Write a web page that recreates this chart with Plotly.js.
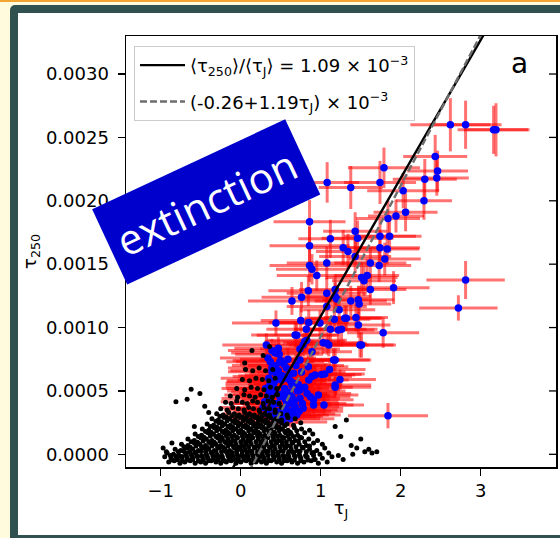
<!DOCTYPE html>
<html><head><meta charset="utf-8">
<script src="https://cdn.plot.ly/plotly-3.0.1.min.js"></script>
<style>
html,body{margin:0;padding:0;width:560px;height:538px;overflow:hidden;background:#fffbdc;}
#topline{position:absolute;left:0;top:0;width:560px;height:2px;background:#f3a531;}
#frame{position:absolute;left:10px;top:5px;width:620px;height:620px;background:#2f5150;border-radius:5px;}
#inner{position:absolute;left:18px;top:13px;width:600px;height:522px;background:#ffffff;}
#chart{position:absolute;left:0;top:0;width:560px;height:538px;}
</style></head><body>
<div id="topline"></div><div id="frame"></div><div id="inner"></div><div id="chart"></div>
<script>
// y values are stored in units of 1e-3
const Y_UNIT = 1e-3;

// fitted relations (legend)
const fitRatio = 1.09;      // <tau250>/<tauJ> x 1e-3
const fitIntercept = -0.26; // x 1e-3
const fitSlope = 1.19;      // x 1e-3
const fitXRange = [-0.6, 3.6];

// blue points with error bars
const blueX = [
2.62,2.81,3.16,3.19,2.43,2.46,2.45,2.30,2.29,2.03,
2.06,1.94,1.84,1.79,1.74,1.375,1.08,0.86,1.12,0.86,
1.43,1.46,1.74,1.86,1.74,1.83,1.28,1.34,1.43,1.80,
1.62,1.73,1.075,0.86,0.89,0.95,1.51,1.54,1.58,1.62,
1.91,2.81,0.845,1.075,1.18,1.18,1.20,0.76,0.64,1.375,
1.47,1.48,2.72,1.075,1.23,1.17,1.32,1.44,1.47,0.75,
0.85,0.99,1.12,1.22,1.26,1.78,0.68,0.80,1.03,1.10,
1.51,1.18,1.11,0.74,0.89,0.74,0.845,1.01,1.05,1.24,
1.18,0.89,0.575,0.66,0.53,0.74,0.97,0.91,1.04,0.575,
0.78,0.66,1.84,0.44,0.70,0.82,0.825,0.32,0.39,0.47,
0.43,0.37,0.49,0.57,0.78,0.39,0.45,0.51,0.37,0.60,
0.64,0.85,0.43,0.345,0.49,0.64,0.74,0.30,0.41,0.575,
0.68,0.345,0.47,0.55,0.39,0.91,0.70,0.87,0.93,1.16,
1.075,1.30,1.49,1.18,0.28,0.53,0.62,0.44,0.36,0.55,
0.33,0.36,0.40,0.42,0.46,0.48,0.50,0.52,0.56,0.58,
0.61,0.63,0.67,0.71,0.73,0.77,0.80,0.83,0.35,0.38,
0.41,0.44,0.47,0.52,0.54,0.59,0.62,0.66,0.69,0.72,
0.31,0.34,0.39,0.43,0.48,0.57,0.63,0.76,0.45,0.50];
const blueY = [
2.60,2.60,2.56,2.56,2.35,2.235,2.18,2.17,2.00,2.08,
1.91,1.88,1.86,2.26,2.145,2.105,2.145,1.835,1.70,1.645,
1.76,1.705,1.72,1.72,1.63,1.62,1.63,1.60,1.56,1.54,
1.51,1.49,1.51,1.49,1.46,1.41,1.395,1.37,1.41,1.30,
1.315,1.375,1.29,1.27,1.30,1.245,1.225,1.24,1.21,1.21,
1.22,1.185,1.155,1.166,1.14,1.066,1.074,1.08,1.02,1.055,
1.04,1.035,0.987,0.98,0.987,0.96,0.942,0.89,0.88,0.863,
0.863,0.745,0.67,0.83,0.81,0.745,0.69,0.63,0.634,0.59,
0.547,0.613,0.60,0.56,0.48,0.508,0.468,0.43,0.39,0.40,
0.363,0.35,0.305,1.035,0.94,0.987,0.90,0.863,0.82,0.837,
0.80,0.73,0.73,0.68,0.863,0.652,0.613,0.587,0.573,0.626,
0.547,0.587,0.494,0.468,0.455,0.455,0.442,0.415,0.40,0.39,
0.376,0.35,0.336,0.31,0.297,0.39,0.31,0.455,0.626,0.745,
0.877,1.074,0.863,0.53,0.37,0.255,0.28,0.28,0.54,0.52,
0.32,0.44,0.36,0.52,0.40,0.30,0.47,0.36,0.43,0.34,
0.49,0.32,0.42,0.50,0.34,0.40,0.53,0.48,0.60,0.50,
0.56,0.70,0.66,0.62,0.71,0.75,0.58,0.64,0.70,0.55,
0.52,0.76,0.68,0.58,0.79,0.46,0.40,0.65,0.30,0.74];
const blueXerr = [
0.50,0.45,0.45,0.40,0.40,0.38,0.40,0.40,0.35,0.45,
0.40,0.35,0.40,0.45,0.45,0.40,0.40,0.45,0.40,0.50,
0.40,0.45,0.45,0.40,0.50,0.40,0.45,0.40,0.45,0.45,
0.45,0.40,0.50,0.50,0.45,0.50,0.45,0.40,0.40,0.45,
0.45,0.49,0.50,0.50,0.45,0.45,0.40,0.50,0.55,0.45,
0.45,0.40,0.49,0.50,0.45,0.45,0.45,0.40,0.40,0.50,
0.50,0.50,0.45,0.45,0.45,0.45,0.55,0.50,0.50,0.50,
0.40,0.45,0.45,0.50,0.50,0.50,0.50,0.50,0.50,0.45,
0.45,0.50,0.55,0.55,0.55,0.50,0.50,0.50,0.50,0.55,
0.50,0.55,0.50,0.55,0.50,0.50,0.50,0.55,0.55,0.55,
0.55,0.55,0.55,0.55,0.50,0.55,0.55,0.55,0.55,0.55,
0.55,0.50,0.55,0.55,0.55,0.55,0.50,0.55,0.55,0.55,
0.55,0.55,0.55,0.55,0.55,0.50,0.55,0.50,0.50,0.45,
0.50,0.45,0.45,0.45,0.55,0.55,0.55,0.55,0.55,0.55,
0.55,0.60,0.55,0.60,0.55,0.55,0.60,0.55,0.55,0.55,
0.60,0.55,0.55,0.60,0.55,0.55,0.60,0.55,0.60,0.55,
0.60,0.55,0.60,0.55,0.55,0.60,0.55,0.55,0.60,0.55,
0.55,0.60,0.55,0.60,0.55,0.55,0.60,0.55,0.55,0.60];
const blueYerr = [
0.21,0.19,0.19,0.21,0.17,0.16,0.14,0.16,0.15,0.14,
0.15,0.13,0.14,0.16,0.17,0.17,0.16,0.17,0.15,0.15,
0.15,0.14,0.13,0.13,0.14,0.12,0.14,0.14,0.13,0.13,
0.12,0.13,0.13,0.13,0.12,0.12,0.12,0.12,0.13,0.12,
0.13,0.15,0.12,0.12,0.12,0.11,0.11,0.12,0.11,0.12,
0.11,0.11,0.10,0.11,0.11,0.10,0.10,0.11,0.10,0.10,
0.10,0.10,0.10,0.10,0.09,0.12,0.10,0.09,0.09,0.09,
0.10,0.09,0.09,0.09,0.09,0.09,0.09,0.08,0.08,0.08,
0.08,0.08,0.08,0.08,0.08,0.08,0.08,0.08,0.08,0.08,
0.08,0.07,0.10,0.10,0.10,0.10,0.09,0.09,0.09,0.09,
0.09,0.09,0.09,0.08,0.09,0.08,0.08,0.08,0.08,0.08,
0.08,0.08,0.08,0.08,0.08,0.08,0.08,0.07,0.07,0.07,
0.07,0.07,0.07,0.07,0.07,0.07,0.07,0.08,0.08,0.09,
0.09,0.10,0.10,0.08,0.07,0.07,0.07,0.07,0.08,0.08,
0.07,0.08,0.07,0.08,0.07,0.07,0.08,0.07,0.08,0.07,
0.08,0.07,0.08,0.08,0.07,0.08,0.08,0.08,0.08,0.08,
0.08,0.09,0.09,0.08,0.09,0.09,0.08,0.09,0.09,0.08,
0.08,0.09,0.09,0.08,0.09,0.08,0.08,0.09,0.07,0.09];

// black points (no error bars)
const blackX = [
-0.90,-0.83,-0.76,-0.70,-0.63,-0.57,-0.50,-0.44,-0.37,-0.31,-0.25,-0.18,-0.12,-0.06,0.00,0.07,0.13,0.19,0.26,0.32,0.38,0.45,0.51,0.58,0.64,0.71,0.79,0.88,0.97,1.08,
-0.95,-0.87,-0.80,-0.73,-0.67,-0.60,-0.54,-0.47,-0.41,-0.34,-0.28,-0.22,-0.15,-0.09,-0.03,0.04,0.10,0.16,0.23,0.29,0.35,0.42,0.48,0.55,0.61,0.68,0.75,0.83,0.92,1.02,1.14,1.28,
-0.92,-0.84,-0.77,-0.69,-0.62,-0.56,-0.49,-0.43,-0.36,-0.30,-0.24,-0.17,-0.11,-0.05,0.02,0.08,0.14,0.21,0.27,0.33,0.40,0.46,0.53,0.59,0.66,0.73,0.81,0.89,0.99,1.10,1.22,1.40,
-0.82,-0.75,-0.67,-0.60,-0.53,-0.46,-0.40,-0.33,-0.27,-0.20,-0.14,-0.08,-0.01,0.05,0.11,0.18,0.24,0.30,0.37,0.43,0.50,0.56,0.63,0.70,0.78,0.86,0.95,1.05,
-0.74,-0.66,-0.58,-0.51,-0.44,-0.38,-0.31,-0.25,-0.18,-0.12,-0.06,0.01,0.07,0.13,0.20,0.26,0.32,0.39,0.45,0.52,0.58,0.65,0.73,0.82,0.91,1.02,
-0.66,-0.58,-0.50,-0.43,-0.36,-0.29,-0.23,-0.16,-0.10,-0.04,0.03,0.09,0.15,0.22,0.28,0.34,0.41,0.47,0.54,0.61,0.68,0.76,0.85,0.96,
-0.57,-0.49,-0.41,-0.34,-0.27,-0.21,-0.14,-0.08,-0.02,0.05,0.11,0.17,0.24,0.30,0.36,0.43,0.49,0.56,0.63,0.71,0.80,0.90,
-0.48,-0.40,-0.33,-0.26,-0.19,-0.13,-0.06,0.00,0.07,0.13,0.19,0.26,0.32,0.38,0.45,0.52,0.59,0.67,0.76,0.86,
-0.42,-0.34,-0.27,-0.20,-0.13,-0.07,0.00,0.06,0.12,0.19,0.25,0.31,0.38,0.44,0.51,0.58,0.66,0.75,
-0.36,-0.28,-0.21,-0.14,-0.07,-0.01,0.06,0.12,0.18,0.25,0.31,0.37,0.44,0.51,0.59,0.68,
-0.30,-0.22,-0.15,-0.08,-0.02,0.05,0.11,0.17,0.24,0.30,0.36,0.43,0.50,0.58,
-0.25,-0.17,-0.10,-0.03,0.04,0.10,0.16,0.23,0.29,0.36,0.43,0.51,
-0.19,-0.12,-0.05,0.02,0.08,0.15,0.21,0.28,0.34,0.41,0.48,
-0.13,-0.04,0.04,0.11,0.18,0.25,0.32,0.39,0.46,
-0.05,0.05,0.13,0.21,0.29,0.37,0.45,
0.02,0.11,0.19,0.27,0.35,0.43,
0.06,0.15,0.23,0.31,0.40,
0.05,0.14,0.28,0.36,
-0.97,-0.93,-0.86,-0.81,-0.67,-0.62,-0.51,-0.45,-0.40,-0.58,1.18,1.25,1.32,1.38,1.45,1.50,1.55,1.60,1.64,1.70,
-0.86,-0.79,-0.73,-0.66,-0.60,-0.53,-0.47,-0.40,-0.34,-0.28,-0.21,-0.15,-0.09,-0.03,0.04,0.10,0.16,0.22,0.29,0.35,0.41,0.48,0.54,0.61,0.67,0.75,0.84,0.93,
-0.88,-0.81,-0.74,-0.68,-0.61,-0.55,-0.48,-0.42,-0.35,-0.29,-0.23,-0.16,-0.10,-0.04,0.03,0.09,0.15,0.22,0.28,0.34,0.41,0.47,0.54,0.60,0.67,0.74,0.82,0.91,
-0.78,-0.71,-0.64,-0.57,-0.50,-0.44,-0.37,-0.31,-0.24,-0.18,-0.11,-0.05,0.02,0.08,0.14,0.21,0.27,0.34,0.40,0.47,0.53,0.60,0.66,0.74,0.82,0.91,
-0.71,-0.63,-0.56,-0.49,-0.42,-0.36,-0.29,-0.22,-0.16,-0.09,-0.03,0.04,0.10,0.17,0.23,0.29,0.36,0.42,0.49,0.55,0.62,0.69,0.77,0.86,
-0.62,-0.54,-0.47,-0.40,-0.33,-0.26,-0.20,-0.13,-0.07,0.00,0.06,0.12,0.19,0.25,0.31,0.38,0.44,0.51,0.57,0.64,0.72,0.80,
-0.53,-0.46,-0.38,-0.31,-0.24,-0.18,-0.11,-0.05,0.02,0.08,0.14,0.21,0.27,0.33,0.40,0.46,0.52,0.59,0.66,0.74,
-0.44,-0.37,-0.30,-0.23,-0.16,-0.10,-0.03,0.03,0.10,0.16,0.22,0.29,0.35,0.42,0.48,0.55,0.62,0.70,
-0.38,-0.30,-0.23,-0.16,-0.10,-0.03,0.03,0.09,0.16,0.22,0.28,0.35,0.41,0.48,0.55,
-0.31,-0.24,-0.17,-0.10,-0.04,0.03,0.09,0.15,0.22,0.28,0.34,0.41,0.47,
-0.26,-0.18,-0.11,-0.05,0.02,0.08,0.14,0.21,0.27,0.34];
const blackY = [
-0.06,-0.05,-0.07,-0.06,-0.05,-0.07,-0.06,-0.07,-0.05,-0.06,-0.07,-0.06,-0.05,-0.07,-0.06,-0.05,-0.07,-0.06,-0.06,-0.07,-0.05,-0.06,-0.07,-0.05,-0.06,-0.07,-0.06,-0.05,-0.07,-0.06,
-0.02,-0.03,-0.04,-0.02,-0.03,-0.03,-0.02,-0.04,-0.03,-0.02,-0.03,-0.04,-0.02,-0.03,-0.03,-0.02,-0.04,-0.03,-0.02,-0.03,-0.04,-0.02,-0.03,-0.03,-0.04,-0.02,-0.03,-0.02,-0.04,-0.03,-0.02,-0.04,
0.01,0.00,-0.01,0.01,0.00,0.01,-0.01,0.00,0.01,0.00,-0.01,0.01,0.00,0.01,-0.01,0.00,0.01,0.00,-0.01,0.01,0.00,0.01,-0.01,0.00,0.01,0.00,-0.01,0.01,0.00,0.01,-0.01,0.00,
0.04,0.03,0.05,0.04,0.03,0.05,0.04,0.03,0.05,0.04,0.03,0.05,0.04,0.04,0.03,0.05,0.04,0.03,0.05,0.04,0.03,0.05,0.04,0.03,0.05,0.04,0.03,0.05,
0.08,0.07,0.09,0.08,0.07,0.09,0.08,0.07,0.09,0.08,0.08,0.07,0.09,0.08,0.07,0.09,0.08,0.07,0.09,0.08,0.07,0.09,0.08,0.07,0.09,0.08,
0.12,0.11,0.13,0.12,0.11,0.13,0.12,0.12,0.11,0.13,0.12,0.11,0.13,0.12,0.11,0.13,0.12,0.11,0.13,0.12,0.11,0.13,0.12,0.11,
0.16,0.15,0.17,0.16,0.15,0.17,0.16,0.15,0.17,0.16,0.15,0.17,0.16,0.15,0.17,0.16,0.15,0.17,0.16,0.15,0.17,0.16,
0.20,0.19,0.21,0.20,0.19,0.21,0.20,0.19,0.21,0.20,0.19,0.21,0.20,0.19,0.21,0.20,0.19,0.21,0.20,0.19,
0.24,0.23,0.25,0.24,0.23,0.25,0.24,0.23,0.25,0.24,0.23,0.25,0.24,0.23,0.25,0.24,0.23,0.25,
0.28,0.27,0.29,0.28,0.27,0.29,0.28,0.27,0.29,0.28,0.27,0.29,0.28,0.27,0.29,0.28,
0.32,0.31,0.33,0.32,0.31,0.33,0.32,0.31,0.33,0.32,0.31,0.33,0.32,0.31,
0.36,0.35,0.37,0.36,0.35,0.37,0.36,0.35,0.37,0.36,0.35,0.37,
0.41,0.40,0.42,0.41,0.40,0.42,0.41,0.40,0.42,0.41,0.40,
0.46,0.45,0.47,0.46,0.45,0.47,0.46,0.45,0.47,
0.52,0.51,0.53,0.52,0.51,0.53,0.52,
0.59,0.58,0.60,0.59,0.58,0.60,
0.67,0.66,0.68,0.66,0.67,
0.72,0.82,0.78,0.85,
0.05,0.02,0.09,0.415,0.434,0.513,0.48,0.38,0.33,0.22,0.22,0.14,0.27,0.07,0.05,0.12,0.02,0.04,0.01,0.02,
-0.045,-0.04,-0.05,-0.045,-0.04,-0.05,-0.045,-0.05,-0.04,-0.045,-0.05,-0.045,-0.04,-0.05,-0.045,-0.04,-0.05,-0.045,-0.045,-0.05,-0.04,-0.045,-0.05,-0.04,-0.045,-0.05,-0.045,-0.04,
-0.01,-0.015,-0.02,-0.01,-0.015,-0.01,-0.02,-0.015,-0.01,-0.015,-0.02,-0.01,-0.015,-0.01,-0.02,-0.015,-0.01,-0.015,-0.02,-0.01,-0.015,-0.01,-0.02,-0.015,-0.01,-0.015,-0.02,-0.01,
0.02,0.025,0.02,0.015,0.025,0.02,0.015,0.025,0.02,0.02,0.015,0.025,0.02,0.015,0.025,0.02,0.015,0.025,0.02,0.015,0.025,0.02,0.015,0.025,0.02,0.015,
0.06,0.055,0.065,0.06,0.055,0.065,0.06,0.055,0.065,0.06,0.055,0.065,0.06,0.055,0.065,0.06,0.055,0.065,0.06,0.055,0.065,0.06,0.055,0.065,
0.10,0.095,0.105,0.10,0.095,0.105,0.10,0.095,0.105,0.10,0.095,0.105,0.10,0.095,0.105,0.10,0.095,0.105,0.10,0.095,0.105,0.10,
0.14,0.135,0.145,0.14,0.135,0.145,0.14,0.135,0.145,0.14,0.135,0.145,0.14,0.135,0.145,0.14,0.135,0.145,0.14,0.135,
0.18,0.175,0.185,0.18,0.175,0.185,0.18,0.175,0.185,0.18,0.175,0.185,0.18,0.175,0.185,0.18,0.175,0.185,
0.22,0.215,0.225,0.22,0.215,0.225,0.22,0.215,0.225,0.22,0.215,0.225,0.22,0.215,0.225,
0.26,0.255,0.265,0.26,0.255,0.265,0.26,0.255,0.265,0.26,0.255,0.265,0.26,
0.30,0.295,0.305,0.30,0.295,0.305,0.30,0.295,0.305,0.30];

const xTickVals = [-1,0,1,2,3];
const yTickVals = [0,0.0005,0.0010,0.0015,0.0020,0.0025,0.0030];
const xRange = [-1.434, 3.94];
const yRange = [-0.0001, 0.0033];

const toY = a => a.map(v => v * Y_UNIT);
const FONT = '"DejaVu Sans", sans-serif';

const traces = [
  {
    x: blueX, y: toY(blueY), type: 'scatter', mode: 'markers', showlegend: false,
    marker: {color: '#0000ff', size: 7.5},
    error_x: {type: 'data', array: blueXerr, color: 'rgba(255,0,0,0.55)', thickness: 3, width: 0},
    error_y: {type: 'data', array: toY(blueYerr), color: 'rgba(255,0,0,0.55)', thickness: 3, width: 0},
    hoverinfo: 'skip'
  },
  {
    x: blackX, y: toY(blackY), type: 'scatter', mode: 'markers', showlegend: false,
    marker: {color: '#000000', size: 5}, hoverinfo: 'skip'
  },
  {
    x: fitXRange, y: toY(fitXRange.map(v => fitRatio * v)), type: 'scatter', mode: 'lines',
    name: '⟨τ<sub>250</sub>⟩/⟨τ<sub>J</sub>⟩ = ' + fitRatio.toFixed(2) + ' × 10<sup>−3</sup>',
    line: {color: '#000000', width: 2.4}, legendgroup: 'a'
  },
  {
    x: fitXRange, y: toY(fitXRange.map(v => fitIntercept + fitSlope * v)), type: 'scatter', mode: 'lines',
    name: '(' + fitIntercept.toFixed(2) + '+' + fitSlope.toFixed(2) + 'τ<sub>J</sub>) × 10<sup>−3</sup>',
    line: {color: '#6e6e6e', width: 2.4, dash: '7px,3px'}, legendgroup: 'b'
  }
];

// inward tick marks on the right-hand frame, placed on the y scale
const rightTicks = yTickVals.map(v => ({
  type: 'line', xref: 'paper', yref: 'y', x0: 1 - 7 / 430, x1: 1, y0: v, y1: v,
  line: {color: '#000000', width: 1.3}
}));

const layout = {
  width: 560, height: 538, autosize: false,
  margin: {l: 126, r: 4, t: 36, b: 71, pad: 0},
  paper_bgcolor: 'rgba(0,0,0,0)', plot_bgcolor: '#ffffff',
  font: {family: FONT, color: '#000000', size: 18},
  xaxis: {
    range: xRange, tickvals: xTickVals, ticks: 'outside', ticklen: 7, tickwidth: 1.3, tickcolor: '#000',
    showgrid: false, zeroline: false, showline: true, linecolor: '#000', linewidth: 1.5, mirror: true,
    tickfont: {family: FONT, size: 18}, ticklabelstandoff: 0,
    title: {text: 'τ<sub>J</sub>', font: {family: FONT, size: 18}, standoff: 1}
  },
  yaxis: {
    range: yRange, tickvals: yTickVals, tickformat: '.4f', ticks: 'outside', ticklen: 7, tickwidth: 1.3, tickcolor: '#000',
    showgrid: false, zeroline: false, showline: true, linecolor: '#000', linewidth: 1.5, mirror: true,
    tickfont: {family: FONT, size: 18}, ticklabelstandoff: 5,
    title: {text: 'τ<sub>250</sub>', font: {family: FONT, size: 18}, standoff: 4}
  },
  shapes: rightTicks,
  showlegend: true,
  legend: {
    x: 0.0186, y: 0.977, xanchor: 'left', yanchor: 'top',
    bgcolor: 'rgba(255,255,255,0.85)', bordercolor: '#cccccc', borderwidth: 1,
    font: {family: FONT, size: 18}, traceorder: 'grouped', tracegroupgap: 10, itemwidth: 45
  },
  annotations: [
    {xref: 'paper', yref: 'paper', x: 0.916, y: 0.937, xanchor: 'center', yanchor: 'middle',
     text: 'a', showarrow: false, font: {family: FONT, size: 28, color: '#000'}},
    {xref: 'paper', yref: 'paper', x: 0.186, y: 0.616, xanchor: 'center', yanchor: 'middle',
     text: 'extinction', showarrow: false,
     textangle: -25, bgcolor: '#0000cc', width: 196, height: 66, borderpad: 8,
     font: {family: '"Open Sans", sans-serif', size: 42, color: '#ffffff'}}
  ]
};

Plotly.newPlot('chart', traces, layout, {staticPlot: true, displayModeBar: false});
</script>
</body></html>
